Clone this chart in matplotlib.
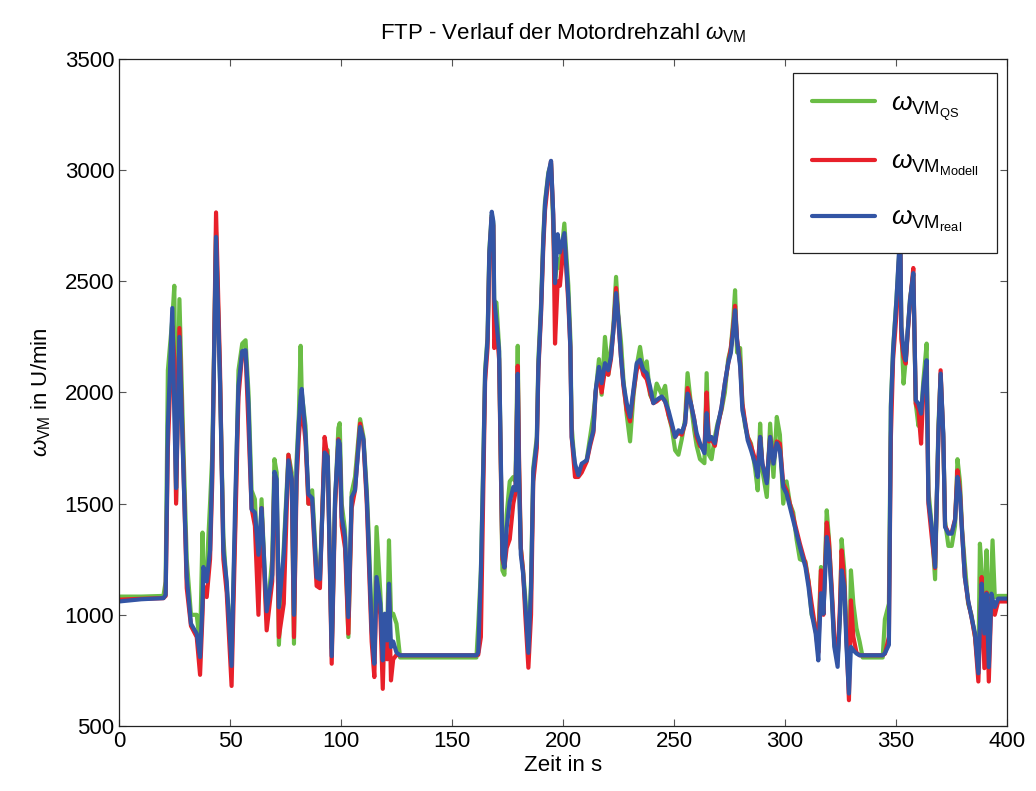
import matplotlib
matplotlib.use('Agg')
import matplotlib.pyplot as plt

plt.rcParams['font.family'] = ['Liberation Sans', 'DejaVu Sans']
plt.rcParams['mathtext.fontset'] = 'custom'
plt.rcParams['mathtext.rm'] = 'Liberation Sans'
plt.rcParams['mathtext.it'] = 'Liberation Sans:italic'
plt.rcParams['mathtext.sf'] = 'Liberation Sans'

# time axis in s (breakpoints)
zeit = [
    0, 10, 20, 21, 22, 24, 24.9, 25.7, 27.2, 28.9, 30.5, 32.4, 35, 36.5, 37.6, 38, 39.5, 41, 42, 43.7,
    45.5, 47, 48.5, 50.7, 52.3,
    53.8, 55.5, 57, 58.3, 59.7, 61.2, 62.8, 64.2, 66.5, 69, 70, 71, 72, 74.2, 76.3, 77.8, 78.8, 80,
    81, 81.8, 82.3, 84, 85.3, 87, 89, 90.5, 92.6, 94, 95.8, 97.3, 98.8, 99.4,
    100.3, 101.8, 103.3, 104.8, 106.3, 108.6, 110.1, 111.6, 112.3, 113.8, 115, 116, 117.7, 118.8,
    119.7, 120.8, 121.6, 122.5, 123.5, 125, 126.6, 161, 161.8, 163, 164.1, 164.9, 166, 166.8, 167.9,
    168.6, 169, 170, 171.2, 172, 172.7, 173.6, 174.6, 176, 177.6, 178.6, 179.6, 180.2, 181, 182, 183,
    184.4, 185.6, 186.6, 188.2, 188.9, 190.1, 191.1, 191.9, 193.4, 194.6, 195.6, 196.4, 197.6, 198.6,
    200.6,
    202.4, 203.3, 203.9, 205.4, 206.9, 208.4, 210.7, 212.2, 213.7, 214.7, 216.2, 217.4, 218.9, 220.4,
    221.6, 222.7, 223.9, 224.9, 226.1, 227.2, 228.7, 230.2, 231.7, 233.2, 234.7, 236.2, 237.7, 239.2,
    240.7, 242.2, 244.5, 246, 247.5, 249, 250.5, 252, 253.5, 255, 256.1, 257.6, 259.1, 260.2, 261.7,
    263.7, 264.7, 265.7, 266.9, 268.4, 269.6, 271.4, 272.9, 274.4, 275.6, 276.7, 277.5, 278.4, 279.8,
    280.8, 282, 283.2, 284.7, 286.5, 287.7, 288.8, 289.8, 291.8, 293.3, 294.8, 296.3, 297.7, 299.2,
    300.7, 302.2, 303.7, 305.2, 306.7, 309.2, 310.6, 312, 313.8, 315, 316.2, 317.3, 318.8, 319.8,
    321, 322.2, 323.7, 324.8, 325.5, 326.7, 327.7, 328.8, 329.7, 330.8, 332.2, 333.6, 335, 344,
    345, 346.8, 347.7, 348.7, 350.2, 351.4, 352, 352.4, 353.4, 354.4, 355.3, 356.3, 357.8, 358.9,
    360.1, 361.3, 362.3, 363.8, 364.6, 366.1, 367.6, 369.1, 370.1, 371.3, 372.1, 373.6, 375.1, 376.6,
    377.7, 378.8, 379.8, 381, 382.5, 384, 385.6, 387.1, 387.8, 388.6, 389.8, 390.8, 391.8, 393,
    393.5, 394.5, 396, 400,
]

# omega_VM real (blue)
w_real = [
    1060, 1070, 1075, 1090, 1850, 2380, 1900, 1570, 2250, 1680, 1170, 960, 915, 810, 1050, 1215, 1150, 1290, 1665, 2700,
    2040, 1290, 1150, 770, 1500,
    2030, 2186, 2190, 1950, 1475, 1460, 1270, 1480, 1016, 1180, 1643, 1610, 1034, 1272, 1695, 1610, 1000, 1660,
    1864, 1980, 2016, 1810, 1542, 1525, 1169, 1160, 1730, 1712, 814, 1525, 1785, 1770,
    1440, 1350, 990, 1530, 1560, 1845, 1790, 1530, 1350, 930, 780, 1170, 1050, 795,
    1005, 885, 1140, 855, 880, 830, 818, 818, 830, 1187, 1677, 2084, 2236, 2627, 2813,
    2770, 2424, 2321, 2186, 1696, 1270, 1213, 1390, 1508, 1575, 1560, 2084, 1610, 1270, 1187, 1050,
    829, 1120, 1643, 1780, 2118, 2372, 2678, 2848, 2983, 3042, 2798, 2492, 2712, 2630,
    2717,
    2430, 2205, 1800, 1680, 1628, 1680, 1695, 1772, 1830, 2010, 2115, 2042, 2132, 2100,
    2160, 2280, 2447, 2340, 2160, 2042, 1952, 1890, 2010, 2132, 2147, 2100, 2087, 2027,
    1952, 1967, 1982, 1960, 1920, 1862, 1800, 1830, 1820, 1862, 1995, 1952, 1877, 1817, 1772,
    1727, 1907, 1787, 1800, 1772, 1847, 1935, 2042, 2132, 2177, 2280, 2370, 2235, 2115,
    1920, 1862, 1785, 1740, 1680, 1620, 1800, 1680, 1592, 1800, 1680, 1772, 1740, 1575,
    1545, 1485, 1425, 1365, 1305, 1215, 1125, 1006, 916, 795, 1097, 1005, 1350, 1290,
    1097, 856, 766, 1006, 1200, 1125, 856, 646, 856, 840, 826, 818, 818, 818,
    827, 865, 1935, 2190, 2415, 2640, 2660, 2295, 2190, 2145, 2280, 2415, 2537, 1965,
    1950, 1905, 2025, 2145, 1515, 1395, 1215, 1815, 2085, 1815, 1395, 1365, 1365, 1425,
    1620, 1545, 1365, 1170, 1065, 990, 916, 737, 950, 1140, 916, 1095, 765, 1095,
    1070, 1035, 1073, 1073,
]

# omega_VM Modell (red)
w_modell = [
    1068, 1072, 1075, 1085, 1750, 2300, 2150, 1500, 2290, 1700, 1120, 950, 900, 730, 1000, 1130, 1080, 1250, 1600, 2810,
    2100, 1250, 1100, 680, 1350,
    1980, 2180, 2180, 1850, 1480, 1400, 1000, 1480, 930, 1150, 1620, 1560, 900, 1050, 1720, 1600, 900, 1600,
    1800, 1900, 1950, 1780, 1500, 1500, 1130, 1120, 1800, 1700, 780, 1480, 1790, 1760,
    1400, 1300, 915, 1480, 1560, 1860, 1780, 1500, 1300, 880, 720, 1150, 1000, 667,
    1000, 800, 1100, 705, 800, 820, 818, 818, 820, 900, 1550, 2050, 2200, 2600, 2790,
    2750, 2200, 2300, 2150, 1650, 1250, 1213, 1300, 1340, 1500, 1550, 2120, 1700, 1300, 1200, 1000,
    762, 1000, 1600, 1750, 2100, 2350, 2650, 2820, 2960, 3040, 2800, 2220, 2500, 2480,
    2700,
    2400, 2200, 1800, 1620, 1620, 1640, 1690, 1760, 1820, 2000, 2100, 2000, 2100, 2080,
    2150, 2280, 2470, 2330, 2160, 2030, 1920, 1870, 2000, 2100, 2140, 2080, 2060, 2000,
    1952, 1960, 1980, 1960, 1900, 1850, 1800, 1820, 1810, 1860, 2020, 1950, 1880, 1800, 1760,
    1740, 2000, 1780, 1790, 1760, 1840, 1930, 2040, 2130, 2200, 2300, 2390, 2240, 2130,
    1950, 1870, 1800, 1760, 1700, 1680, 1800, 1680, 1600, 1800, 1690, 1780, 1770, 1590,
    1560, 1500, 1440, 1380, 1320, 1230, 1150, 1050, 930, 830, 1200, 1000, 1415, 1330,
    1130, 900, 800, 1050, 1290, 1150, 900, 616, 1065, 900, 830, 818, 818, 818,
    825, 900, 1800, 2150, 2350, 2600, 2640, 2240, 2160, 2130, 2270, 2400, 2560, 1950,
    1920, 1770, 2000, 2130, 1500, 1350, 1210, 1800, 2100, 1800, 1400, 1370, 1370, 1430,
    1650, 1560, 1370, 1170, 1060, 990, 900, 700, 900, 1170, 760, 1100, 700, 1080,
    1050, 1000, 1060, 1060,
]

# omega_VM QS (green)
w_qs = [
    1082, 1082, 1085, 1150, 2100, 2330, 2480, 1510, 2420, 1790, 1250, 1000, 1000, 860, 1370, 1150, 1200, 1500, 1720, 2720,
    2050, 1350, 1120, 850, 1400,
    2100, 2220, 2235, 2000, 1560, 1520, 1150, 1520, 980, 1250, 1700, 1640, 865, 1300, 1720, 1640, 870, 1700,
    1900, 2210, 2000, 1850, 1500, 1560, 1200, 1180, 1750, 1740, 850, 1500, 1840, 1862,
    1500, 1380, 900, 1550, 1620, 1880, 1800, 1560, 1400, 970, 900, 1395, 1100, 850,
    1000, 900, 1335, 1000, 1005, 960, 808, 808, 950, 1200, 1700, 2100, 2250, 2640, 2800,
    2760, 2400, 2405, 2200, 1650, 1200, 1180, 1450, 1600, 1620, 1600, 2210, 1650, 1300, 1200, 1080,
    850, 1150, 1660, 1800, 2150, 2400, 2700, 2860, 2990, 3030, 2750, 2500, 2600, 2560,
    2760,
    2480, 2250, 1850, 1650, 1650, 1660, 1700, 1800, 1900, 2000, 2150, 1990, 2250, 2080,
    2200, 2300, 2520, 2350, 2230, 2060, 1900, 1780, 1980, 2120, 2205, 2100, 2140, 1990,
    1960, 2040, 1990, 2030, 1900, 1840, 1740, 1720, 1790, 1880, 2087, 1950, 1830, 1760, 1700,
    1682, 2087, 1720, 1700, 1800, 1860, 1920, 2000, 2150, 2200, 2330, 2460, 2180, 2200,
    1950, 1850, 1800, 1770, 1660, 1560, 1860, 1650, 1530, 1860, 1620, 1890, 1810, 1500,
    1600, 1500, 1460, 1340, 1250, 1240, 1150, 1000, 950, 900, 1215, 1010, 1470, 1340,
    1100, 870, 800, 1000, 1340, 1200, 900, 705, 1200, 1050, 940, 880, 808, 808,
    980, 1050, 1950, 2200, 2420, 2620, 2640, 2300, 2040, 2150, 2280, 2420, 2530, 1950,
    1850, 1900, 2050, 2220, 1560, 1400, 1160, 1850, 2080, 1800, 1420, 1310, 1310, 1400,
    1700, 1600, 1380, 1230, 1050, 1000, 900, 760, 1320, 1200, 950, 1290, 880, 1200,
    1335, 1080, 1085, 1085,
]

col_qs = '#6abd45'
col_modell = '#e8202a'
col_real = '#3355a5'

fig = plt.figure(figsize=(10.36, 7.91), dpi=100)
ax = fig.add_axes([0.1149, 0.0822, 0.8571, 0.8432])

line_kw = dict(lw=3.0, solid_joinstyle='round', solid_capstyle='round')
ax.plot(zeit, w_qs, color=col_qs, label=r'$\omega_{\mathrm{VM}_{\mathrm{QS}}}$', **line_kw)
ax.plot(zeit, w_modell, color=col_modell, label=r'$\omega_{\mathrm{VM}_{\mathrm{Modell}}}$', **line_kw)
ax.plot(zeit, w_real, color=col_real, label=r'$\omega_{\mathrm{VM}_{\mathrm{real}}}$', **line_kw)

ax.set_xlim(0, 400)
ax.set_ylim(500, 3500)
ax.set_xticks(range(0, 401, 50))
ax.set_yticks(range(500, 3501, 500))
ax.tick_params(direction='in', top=True, right=True, length=5, width=0.8,
               labelsize=16, color='#555555')
for sp in ax.spines.values():
    sp.set_color('#222222')
    sp.set_linewidth(0.9)

ax.set_title(r'FTP - Verlauf der Motordrehzahl $\omega_{\mathrm{VM}}$', fontsize=16, pad=14)
ax.set_xlabel('Zeit in s', fontsize=16, labelpad=2)
ax.set_ylabel(r'$\omega_{\mathrm{VM}}$ in U/min', fontsize=16, labelpad=8)

leg = ax.legend(loc='upper right', bbox_to_anchor=(0.989, 0.979), fontsize=19,
                fancybox=False, framealpha=1, edgecolor='#222222', borderpad=0.7,
                labelspacing=1.05, handlelength=2.4, handletextpad=0.6, borderaxespad=0)
leg.get_frame().set_linewidth(0.9)
for hl in leg.get_lines():
    hl.set_linewidth(3.0)

fig.savefig('out.png', dpi=100)
